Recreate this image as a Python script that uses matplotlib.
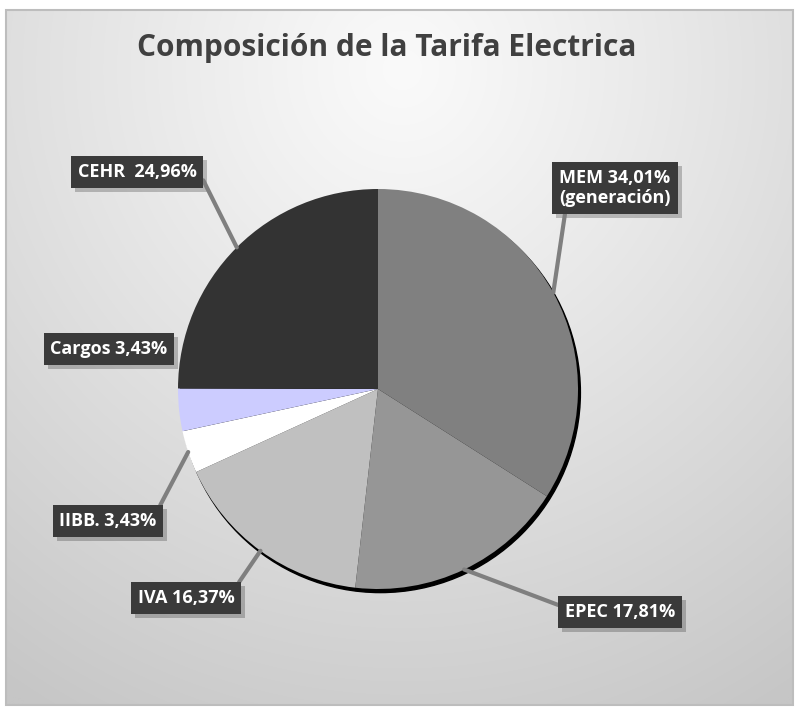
import numpy as np
import matplotlib.pyplot as plt
from matplotlib.patches import Circle, Rectangle

# data
labels = ['MEM 34,01%\n(generación)', 'EPEC 17,81%', 'IVA 16,37%',
          'IIBB. 3,43%', 'Cargos 3,43%', 'CEHR  24,96%']
values = [34.01, 17.81, 16.37, 3.43, 3.43, 24.96]
colors = ['#808080', '#969696', '#c0c0c0', '#ffffff', '#ccccff', '#333333']

# label box centres (data units, pie radius = 1), leader attach point on box
label_pos = [(1.185, 1.005), (1.21, -1.115), (-0.96, -1.045),
             (-1.35, -0.66), (-1.345, 0.20), (-1.205, 1.085)]
attach = [(0.06, 0.0), (0.0, 0.75), (1.0, 1.0), (1.0, 1.0), None, (1.0, 0.8)]

W, H = 795, 707
fig = plt.figure(figsize=(W / 100, H / 100), dpi=100)
fig.patch.set_facecolor('white')

# background with soft radial gradient
bg = fig.add_axes([0, 0, 1, 1])
yy, xx = np.mgrid[0:H, 0:W]
d = np.sqrt(((xx - 400) / 1.0) ** 2 + ((yy - 60) / 1.05) ** 2)
g = 250 - 52 * np.clip(d / 720, 0, 1) ** 1.1
img = np.dstack([g, g, g]) / 255.0
bg.imshow(img, extent=(6, W - 2, H - 2, 10), zorder=0, aspect='auto')
bg.set_xlim(0, W)
bg.set_ylim(H, 0)
bg.axis('off')
bg.add_patch(Rectangle((6, 10), W - 8, H - 12, fill=False,
                       edgecolor='#bdbdbd', lw=1.5, zorder=1))

fig.text(0.487, 0.932, 'Composición de la Tarifa Electrica',
         ha='center', va='center', fontsize=21.5, fontweight='bold',
         color='#404040', family='Open Sans')

# pie axes: centre at pixel (378, 389), radius 200 px
cx, cy, r = 378, 389, 200
ax = fig.add_axes([0, 0, 1, 1])

ax.add_patch(Circle((0.012, -0.018), 1.0, color='black', zorder=1))
wedges, _ = ax.pie(values, colors=colors, startangle=90, counterclock=False,
                   radius=1.0, wedgeprops=dict(linewidth=0))
for w in wedges:
    w.set_zorder(2)
ax.set_aspect('auto')
ax.set_xlim(-cx / r, (W - cx) / r)
ax.set_ylim(-(H - cy) / r, cy / r)
ax.axis('off')

anns = []
for w, lab, pos, rp in zip(wedges, labels, label_pos, attach):
    ang = np.deg2rad((w.theta1 + w.theta2) / 2)
    px, py = np.cos(ang), np.sin(ang)
    arrow = None
    if rp is not None:
        arrow = dict(arrowstyle='-', color='#7f7f7f', lw=3, shrinkA=0,
                     shrinkB=0, relpos=rp)
    a = ax.annotate(lab, xy=(px, py), xytext=pos, ha='center', va='center',
                    fontsize=13, fontweight='bold', color='white', family='Open Sans',
                    linespacing=1.2,
                    bbox=dict(boxstyle='square,pad=0.38', fc='#3a3a3a', ec='none'),
                    arrowprops=arrow, zorder=5)
    anns.append(a)

# soft drop shadow behind each label box
fig.canvas.draw()
for a in anns:
    bb = a.get_bbox_patch().get_window_extent()
    ax.add_patch(Rectangle((bb.x0 + 4, bb.y0 - 4), bb.width, bb.height,
                           transform=None, fc='black', ec='none',
                           alpha=0.22, zorder=4))

fig.savefig('out.png', dpi=100)
